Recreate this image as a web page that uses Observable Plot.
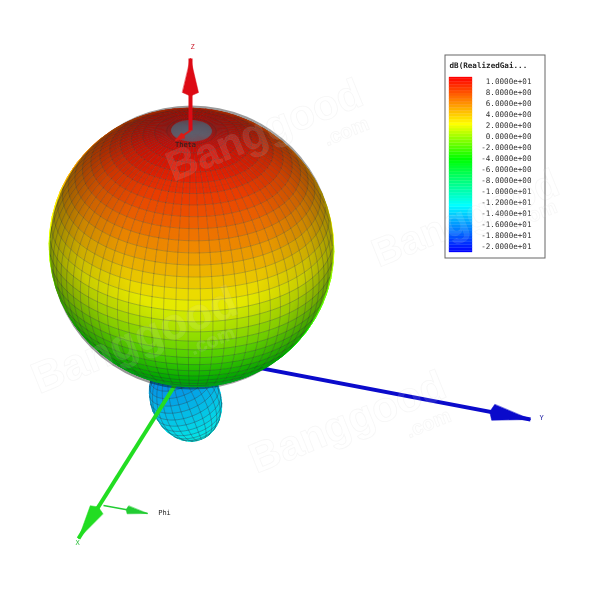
<!DOCTYPE html>
<html>
<head>
<meta charset="utf-8">
<script src="https://cdn.jsdelivr.net/npm/d3@7"></script>
<script src="https://cdn.jsdelivr.net/npm/@observablehq/plot@0.6"></script>
<style>html,body{margin:0;padding:0;background:#fff}</style>
</head>
<body>
<div id="chart"></div>
<script>
// Realized gain (dB) of the main lobe, read per ring along the polar angle theta
const thetaRows = [0,5,10,15,20,25,30,35,40,45,50,55,60,65,70,75,80,85,90,95,100,105,110,115,120,125,130,135,140,145,150,155,160,165,170,175,180];
const mainGain  = [10,9.9,9.8,9.6,9.4,9.1,8.7,8.2,7.7,7.1,6.5,5.8,5.1,4.4,3.6,2.9,2.2,1.6,1,0.3,-0.4,-1.1,-1.8,-2.4,-3,-3.5,-4,-4.4,-4.8,-5.2,-5.6,-6,-6.4,-6.8,-7.2,-7.6,-8];
// Back lobe, from its far tip to its neck
const lobeRows = [0,10,20,30,40,50,60,70,80,90,100,110,120,130,140,150,160,170,180];
const lobeGain = [-10.8,-11,-11.2,-11.4,-11.6,-11.9,-12.2,-12.5,-12.8,-13.2,-13.6,-14,-14.4,-14.8,-15.2,-15.6,-16,-16,-16];
// Colour legend
const legendTitle = "dB(RealizedGai...";
const legendValues = [10,8,6,4,2,0,-2,-4,-6,-8,-10,-12,-14,-16,-18,-20];
const legendLabels = ["1.0000e+01","8.0000e+00","6.0000e+00","4.0000e+00","2.0000e+00","0.0000e+00","-2.0000e+00","-4.0000e+00","-6.0000e+00","-8.0000e+00","-1.0000e+01","-1.2000e+01","-1.4000e+01","-1.6000e+01","-1.8000e+01","-2.0000e+01"];
const colorStops = [-20,-12,-4,2,6,10];
const colorRange = ["#0000ff","#00ffff","#00ff00","#ffff00","#ff8000","#ff0000"];
// Axes: name, start, tip, head length and width, colour
const axisNames = ["Y","X","Z","Phi","Theta"];
const axisX1 = [230,190,190,103,190];
const axisY1 = [362,360,130,505,130];
const axisX2 = [530,78,190,147,175];
const axisY2 = [419,538,58,513,140];
const axisHead = [38,34,34,20,9];
const axisHeadW = [16,15,16,8,6];
const axisWidth = [4,4,4,1.5,2];
const axisColor = ["#0a0acb","#22dd22","#dd0a14","#22cc33","#dd1a14"];
const labelText = ["Y","X","Z","Phi","Theta"];
const labelX = [541,77,192,164,185];
const labelY = [417,542,46,512,144];
const labelColor = ["#1a1aa0","#30c040","#cc2030","#222","#222"];
// Watermark
const markText = ["Banggood","Banggood","Banggood","Banggood",".com",".com",".com",".com"];
const markX = [264,465,134,347,346,534,212,428];
const markY = [130,218,340,422,131,214,340,423];
const markSize = [42,40,44,42,20,20,20,20];

// Sphere placement and view, in chart units
const C = {x:191, y:247, R:141};
const view = {sx:[-0.284,0.969,0], sy:[0.501,0.164,-0.836], d:[0.815,0.223,0.532]};
const rad = Math.PI/180;
function sph(th,ph){
  const X=Math.sin(th*rad)*Math.cos(ph*rad), Y=Math.sin(th*rad)*Math.sin(ph*rad), Z=Math.cos(th*rad);
  const dot=a=>a[0]*X+a[1]*Y+a[2]*Z;
  return {x:C.x+C.R*dot(view.sx), y:C.y+C.R*dot(view.sy), depth:dot(view.d)};
}
const phiStep = 5;
const phis = d3.range(0,360,phiStep);
const cells = [];
thetaRows.slice(0,-1).forEach((t,i)=>{
  const g=(mainGain[i]+mainGain[i+1])/2, t2=thetaRows[i+1];
  phis.forEach(p=>{
    const q=[sph(t,p),sph(t,p+phiStep),sph(t2,p+phiStep),sph(t2,p)];
    if(d3.max(q,d=>d.depth)<-0.02) return;
    const id=`${t}-${p}`;
    q.forEach(d=>cells.push({id,x:d.x,y:d.y,gain:g}));
  });
});
// mesh lines: hidden parts and the outer rim become gaps
const mesh=[];
function push(id,th,ph){const s=sph(th,ph);const ok=s.depth>0.12;mesh.push({id,x:ok?s.x:NaN,y:ok?s.y:NaN});}
thetaRows.forEach(t=>{ d3.range(0,361,3).forEach(p=>push("r"+t,t,p)); });
phis.forEach(p=>{ d3.range(0,181,3).forEach(t=>push("m"+p,t,p)); });
const fine=[];
function pushFine(id,th,ph){const s=sph(th,ph);const ok=s.depth>0.12;fine.push({id,x:ok?s.x:NaN,y:ok?s.y:NaN});}
[2.5,7.5,12.5,17.5,22.5,27.5,32.5].forEach(t=>{ d3.range(0,361,3).forEach(p=>pushFine("r"+t,t,p)); });
d3.range(0,360,2.5).forEach(p=>{ [0,10,20,35].forEach(t=>pushFine("d"+p,t,p)); });
const poleMesh=[];
d3.range(0,360,1).forEach(p=>{ [0,4,8].forEach(t=>{const s=sph(t,p);poleMesh.push({id:p,x:s.x,y:s.y});}); });

// Back lobe: an ellipsoid along its own axis, leaning away from the viewer
const L={x:185,y:398,a:35,b:47};
const nrm=v=>{const n=Math.hypot(...v);return v.map(d=>d/n);};
const A=nrm([0.3,0.78,-0.53]);
const P=nrm([A[1],-A[0],0]);
const Q=[A[1]*P[2]-A[2]*P[1],A[2]*P[0]-A[0]*P[2],A[0]*P[1]-A[1]*P[0]].map(d=>-d);
function lobe(t,p){
  const st=Math.sin(t*rad), ct=Math.cos(t*rad), cp=Math.cos(p*rad), sp=Math.sin(p*rad);
  const v=i=>L.a*st*cp*P[i]+L.a*st*sp*Q[i]+L.b*ct*A[i];
  const n=i=>st*cp*P[i]/L.a+st*sp*Q[i]/L.a+ct*A[i]/L.b;
  return {x:L.x+v(0),y:L.y+v(1),front:n(2)};
}
const lobePhis=d3.range(0,360,15);
const lobeCells=[], lobeMesh=[];
lobeRows.slice(0,-1).forEach((t,i)=>{
  const g=(lobeGain[i]+lobeGain[i+1])/2,t2=lobeRows[i+1];
  lobePhis.forEach(p=>{
    const q=[lobe(t,p),lobe(t,p+15),lobe(t2,p+15),lobe(t2,p)];
    if(d3.max(q,d=>d.front)<-0.001) return;
    q.forEach(d=>lobeCells.push({id:`${t}-${p}`,x:d.x,y:d.y,gain:g}));
  });
});
const pushLobe=(id,t,p)=>{const d=lobe(t,p);const ok=d.front>0;lobeMesh.push({id,x:ok?d.x:NaN,y:ok?d.y:NaN});};
lobeRows.forEach(t=>{d3.range(0,361,5).forEach(p=>pushLobe("r"+t,t,p));});
lobePhis.forEach(p=>{d3.range(0,181,5).forEach(t=>pushLobe("m"+p,t,p));});

// Arrow shafts and heads
const rows=axisNames.map((n,i)=>({n,x1:axisX1[i],y1:axisY1[i],x2:axisX2[i],y2:axisY2[i],h:axisHead[i],w:axisHeadW[i],sw:axisWidth[i],c:axisColor[i]}));
const byName=Object.fromEntries(rows.map(r=>[r.n,r]));
function head(r){
  const L0=Math.hypot(r.x2-r.x1,r.y2-r.y1),ux=(r.x2-r.x1)/L0,uy=(r.y2-r.y1)/L0,bx=r.x2-ux*r.h,by=r.y2-uy*r.h;
  return [[r.x2,r.y2],[bx-uy*r.w/2,by+ux*r.w/2],[bx-ux*r.w*.22,by-uy*r.w*.22],[bx+uy*r.w/2,by-ux*r.w/2]].map(([x,y])=>({x,y}));
}
const shaft=r=>Plot.link([r],{x1:"x1",y1:"y1",x2:"x2",y2:"y2",stroke:r.c,strokeWidth:r.sw});
const cone=r=>Plot.line(head(r),{x:"x",y:"y",fill:r.c,stroke:r.c,strokeWidth:.5,curve:"linear-closed"});

// Legend
const legY=d3.scaleLinear([10,-20],[81,246]);
const legendRamp=d3.range(-20,10.01,0.5).map(v=>({v,
  y1:Math.min(252,77+(10-(v-0.25))*175/30),
  y2:Math.max(77,77+(10-(v+0.25))*175/30)}));
const legendRows=legendLabels.map((t,i)=>({t,y:legY(legendValues[i])}));
const mono="DejaVu Sans Mono";

const marks=[
  Plot.rect([{}],{x1:()=>445,x2:()=>545,y1:()=>55,y2:()=>258,fill:"#fff",stroke:"#666",strokeWidth:1}),
  Plot.text([legendTitle],{x:()=>449,y:()=>65,text:d=>d,textAnchor:"start",fontFamily:mono,fontSize:7.6,fontWeight:"bold",fill:"#222"}),
  Plot.rect(legendRamp,{x1:()=>449,x2:()=>472,y1:"y1",y2:"y2",fill:"v",stroke:"v",strokeWidth:.3}),
  Plot.text(legendRows,{x:()=>531,y:"y",text:"t",textAnchor:"end",fontFamily:mono,fontSize:7.6,fill:"#333"}),
  shaft(byName.Y),
  Plot.line(lobeCells,{x:"x",y:"y",z:"id",fill:"gain",stroke:"gain",strokeWidth:.5,curve:"linear-closed"}),
  Plot.line(lobeCells,{x:"x",y:"y",z:"id",fill:"#1a3a50",fillOpacity:.14,curve:"linear-closed"}),
  Plot.line(lobeMesh,{x:"x",y:"y",z:"id",stroke:"#1f4a60",strokeOpacity:.75,strokeWidth:.6}),
  shaft(byName.X),
  Plot.line(cells,{x:"x",y:"y",z:"id",fill:"gain",stroke:"gain",strokeWidth:.6,curve:"linear-closed"}),
  Plot.line(mesh,{x:"x",y:"y",z:"id",stroke:"#4a4a4a",strokeOpacity:.5,strokeWidth:.6}),
  Plot.line(fine,{x:"x",y:"y",z:"id",stroke:"#555",strokeOpacity:.2,strokeWidth:.45}),
  Plot.line(poleMesh,{x:"x",y:"y",z:"id",stroke:"#778",strokeOpacity:.75,strokeWidth:.6}),
  Plot.dot([C],{x:"x",y:"y",r:C.R+1,fill:"url(#shade)"}),
  shaft(byName.Z),shaft(byName.Phi),shaft(byName.Theta),
  cone(byName.Y),cone(byName.X),cone(byName.Z),cone(byName.Phi),cone(byName.Theta),
  Plot.text(labelText,{x:(d,i)=>labelX[i],y:(d,i)=>labelY[i],text:d=>d,fontFamily:mono,fontSize:7,fill:(d,i)=>labelColor[i]}),
  Plot.text(markText,{x:(d,i)=>markX[i],y:(d,i)=>markY[i],text:d=>d,rotate:-22,fontFamily:"Liberation Sans",fontWeight:"bold",fontSize:(d,i)=>markSize[i],fill:"#fff",fillOpacity:.1,stroke:"#aaa",strokeOpacity:.1,strokeWidth:.8})
];

const chart=Plot.plot({
  width:600,height:600,margin:0,
  x:{domain:[0,600],axis:null},
  y:{domain:[600,0],axis:null},
  color:{type:"linear",domain:colorStops,range:colorRange,clamp:true,interpolate:"rgb"},
  style:{background:"#fff",filter:"blur(0.5px)"},
  marks
});
d3.select(chart).insert("defs",":first-child").html(
 `<radialGradient id="shade" cx="51%" cy="50%" r="51%">
   <stop offset="0%" stop-color="#000" stop-opacity=".06"/>
   <stop offset="50%" stop-color="#000" stop-opacity=".09"/>
   <stop offset="78%" stop-color="#000" stop-opacity=".2"/>
   <stop offset="100%" stop-color="#000" stop-opacity=".42"/>
 </radialGradient>`);
document.getElementById("chart").append(chart);
</script>
</body>
</html>
